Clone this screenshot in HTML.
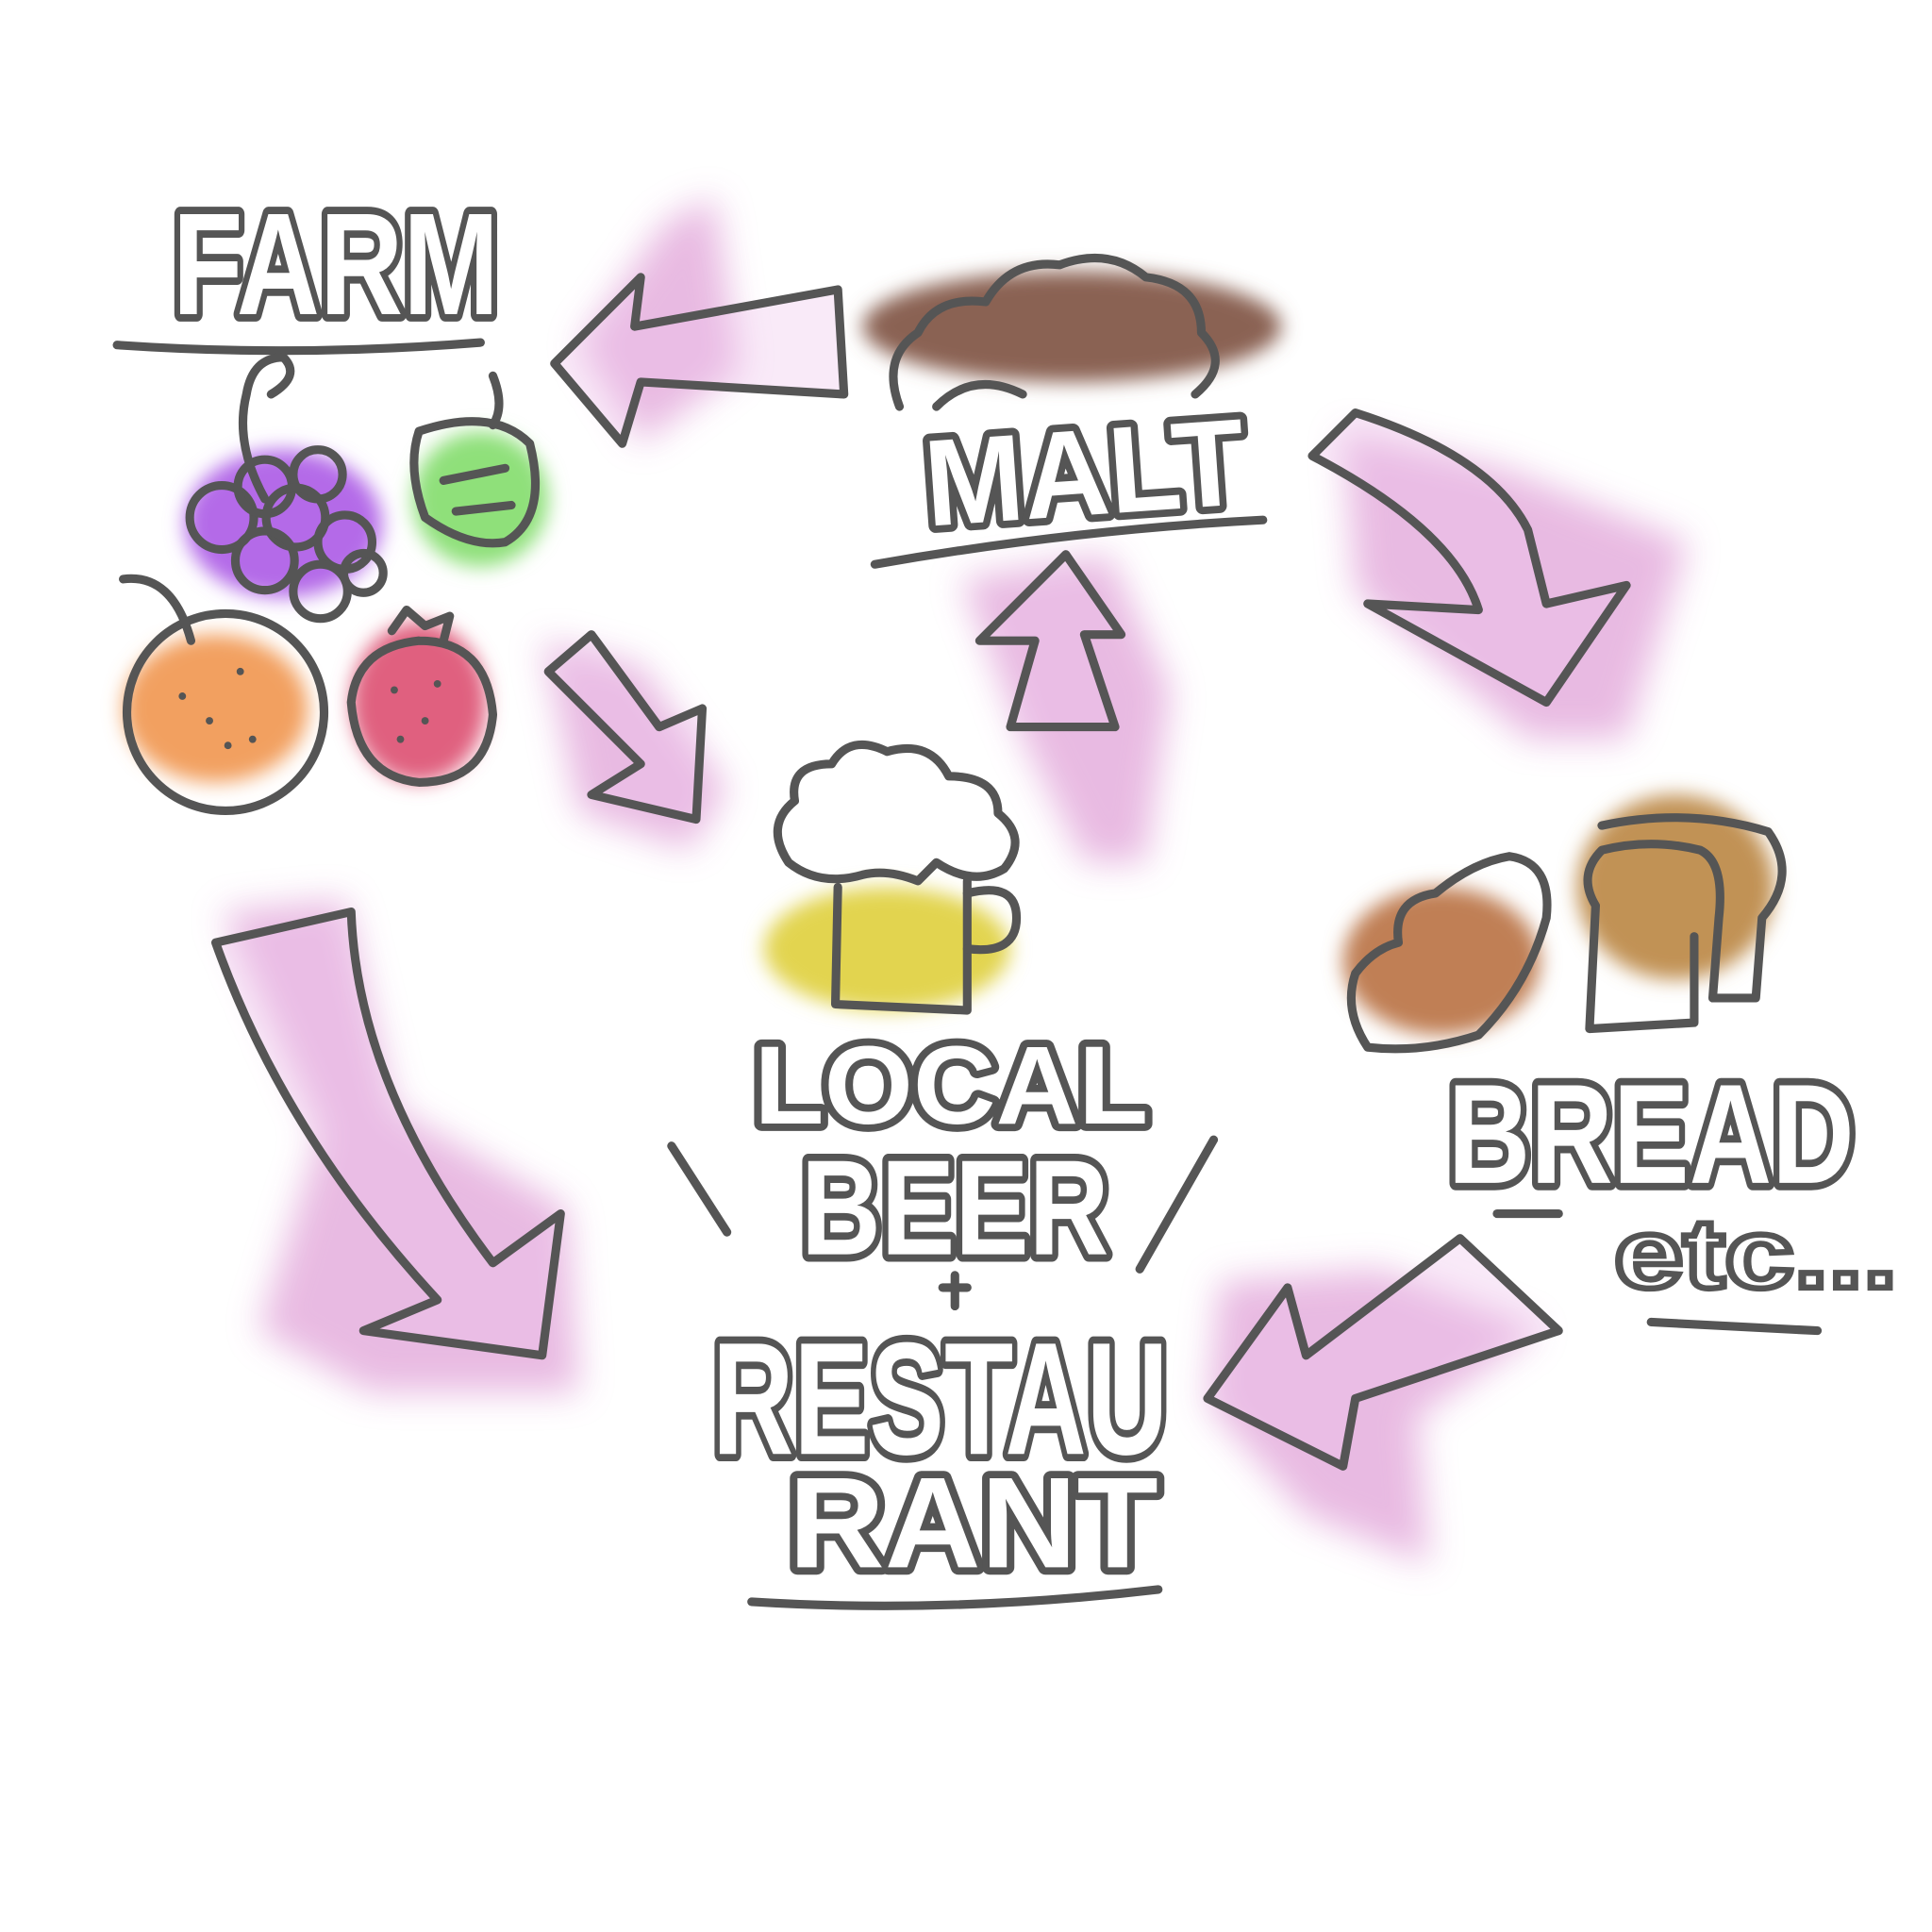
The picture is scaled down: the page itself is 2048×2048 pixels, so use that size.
<!DOCTYPE html>
<html><head><meta charset="utf-8"><style>
html,body{margin:0;padding:0;background:#fff;}
svg{display:block;}
text{font-family:"Liberation Sans",sans-serif;font-weight:bold;}
</style></head><body>
<svg width="2048" height="2048" viewBox="0 0 1568 1568" xmlns="http://www.w3.org/2000/svg">
<defs>
<filter id="b" x="-50%" y="-50%" width="200%" height="200%"><feGaussianBlur stdDeviation="14"/></filter>
<filter id="b2" x="-50%" y="-50%" width="200%" height="200%"><feGaussianBlur stdDeviation="8"/></filter>
</defs>
<rect width="1568" height="1568" fill="#fff"/>

<g fill="#e6b3df" filter="url(#b)" opacity="0.9">
<path d="M470 280 L540 180 L580 160 L600 300 L520 360 Z"/>
<path d="M1090 350 L1220 380 L1370 440 L1320 600 L1240 600 L1100 480 Z"/>
<path d="M780 470 L900 450 L950 560 L930 700 L880 700 L830 600 Z"/>
<path d="M440 520 L520 540 L590 640 L560 690 L470 660 Z"/>
<path d="M180 740 L280 730 L320 900 L460 980 L470 1130 L300 1130 L210 1080 L260 920 Z"/>
<path d="M990 1040 L1120 1030 L1250 1080 L1150 1150 L1160 1270 L1060 1230 L980 1140 Z"/>
</g>
<g filter="url(#b2)">
<ellipse cx="230" cy="425" rx="80" ry="60" fill="#b46ae8"/>
<ellipse cx="390" cy="405" rx="55" ry="55" fill="#8fe07a"/>
<ellipse cx="175" cy="575" rx="75" ry="60" fill="#f2a060"/>
<ellipse cx="340" cy="570" rx="55" ry="65" fill="#e0607f"/>
<ellipse cx="870" cy="265" rx="170" ry="45" fill="#8a6252"/>
<ellipse cx="720" cy="770" rx="100" ry="50" fill="#e2d450"/>
<ellipse cx="1170" cy="780" rx="80" ry="60" fill="#c07f55"/>
<ellipse cx="1360" cy="720" rx="80" ry="75" fill="#c19255"/>
</g>

<g fill="none" stroke="#555" stroke-width="7" stroke-linecap="round" stroke-linejoin="round">
<path d="M95 280 Q240 290 390 278"/>
<path d="M215 405 Q190 360 200 320 Q205 290 230 290 Q245 305 220 320"/>
<circle cx="180" cy="420" r="26"/><circle cx="215" cy="395" r="22"/><circle cx="258" cy="385" r="20"/>
<circle cx="240" cy="420" r="24"/><circle cx="280" cy="440" r="22"/><circle cx="215" cy="455" r="24"/>
<circle cx="260" cy="480" r="22"/><circle cx="295" cy="465" r="16"/>
<path d="M400 305 Q410 330 400 345"/>
<path d="M340 350 Q400 330 430 360 Q445 420 410 440 Q380 445 345 420 Q330 380 340 350"/>
<path d="M360 390 L410 380 M370 415 L415 410"/>
<circle cx="183" cy="578" r="80"/>
<path d="M100 470 Q140 465 155 520"/>
<path d="M340 520 Q395 520 400 580 Q395 635 340 635 Q290 630 285 570 Q290 525 340 520"/>
<path d="M318 512 L330 495 L345 508 L365 500 L360 520"/>
<g fill="#efc4ea" fill-opacity="0.35">
<path d="M450 295 L520 225 L515 265 L680 235 L685 320 L520 310 L505 360 Z"/>
<path d="M1065 370 L1100 335 Q1210 370 1240 430 L1255 490 L1320 475 L1255 570 L1110 490 L1200 495 Q1180 430 1065 370 Z"/>
<path d="M820 590 L840 520 L795 520 L865 450 L910 515 L880 515 L905 590 Z"/>
<path d="M445 545 L480 515 L535 590 L570 575 L565 665 L480 645 L520 620 Z"/>
<path d="M175 765 L285 740 Q290 880 400 1025 L455 985 L440 1100 L295 1080 L355 1055 Q230 920 175 765 Z"/>
<path d="M1185 1005 L1265 1080 L1100 1135 L1090 1190 L980 1135 L1045 1045 L1060 1100 Z"/>
</g>
<path d="M730 330 Q715 290 745 270 Q760 240 800 245 Q820 210 860 215 Q900 200 930 225 Q975 230 975 270 Q1000 295 970 320"/>
<path d="M760 330 Q790 300 830 320"/>
<path d="M710 458 Q870 430 1025 422"/>
<path d="M640 700 Q620 670 645 650 Q640 620 675 620 Q690 595 720 610 Q755 600 770 630 Q810 630 810 660 Q835 680 815 705 Q790 720 760 700 L745 715 Q720 705 700 710 Q665 720 640 700 Z"/>
<path d="M680 720 L678 815 L785 820 L785 715"/>
<path d="M785 725 Q825 715 825 745 Q825 775 785 770"/>
<path d="M545 930 L590 1000 M985 925 L925 1030"/>
<path d="M610 1300 Q770 1310 940 1290"/>
<path d="M765 1045 L785 1045 M775 1035 L775 1060"/>
<path d="M1110 850 Q1090 820 1100 790 Q1115 770 1135 765 Q1130 730 1165 725 Q1195 700 1225 695 Q1260 700 1255 745 Q1240 800 1200 840 Q1155 855 1110 850 Z"/>
<path d="M1300 670 Q1370 655 1435 675 Q1460 710 1430 745 L1425 810 L1390 810 L1395 745 Q1400 700 1380 690 Q1340 680 1300 690 Q1280 710 1295 735 L1290 835 L1375 830 L1375 760"/>
<path d="M1215 985 L1265 985 M1340 1073 L1475 1080"/>
</g>

<g fill="#555">
<circle cx="148" cy="565" r="3"/><circle cx="170" cy="585" r="3"/><circle cx="195" cy="545" r="3"/><circle cx="205" cy="600" r="3"/><circle cx="185" cy="605" r="3"/>
<circle cx="320" cy="560" r="3"/><circle cx="345" cy="585" r="3"/><circle cx="355" cy="555" r="3"/><circle cx="325" cy="600" r="3"/>
</g>

<g fill="#fff" stroke="#555" stroke-width="12" stroke-linejoin="round" paint-order="stroke">
<text x="140" y="255" font-size="118" textLength="265" lengthAdjust="spacingAndGlyphs">FARM</text>
<text x="750" y="418" font-size="100" textLength="260" lengthAdjust="spacingAndGlyphs" transform="rotate(-4 880 380)">MALT</text>
<text x="612" y="912" font-size="90" textLength="320" lengthAdjust="spacingAndGlyphs">LOCAL</text>
<text x="650" y="1018" font-size="110" textLength="250" lengthAdjust="spacingAndGlyphs">BEER</text>
<text x="578" y="1180" font-size="130" textLength="370" lengthAdjust="spacingAndGlyphs">RESTAU</text>
<text x="640" y="1272" font-size="105" textLength="300" lengthAdjust="spacingAndGlyphs">RANT</text>
<text x="1175" y="960" font-size="115" textLength="330" lengthAdjust="spacingAndGlyphs">BREAD</text>
</g>
<text x="1310" y="1045" font-size="80" fill="none" stroke="#555" stroke-width="5" font-weight="normal" textLength="230" lengthAdjust="spacingAndGlyphs">etc...</text>
</svg>
</body></html>
